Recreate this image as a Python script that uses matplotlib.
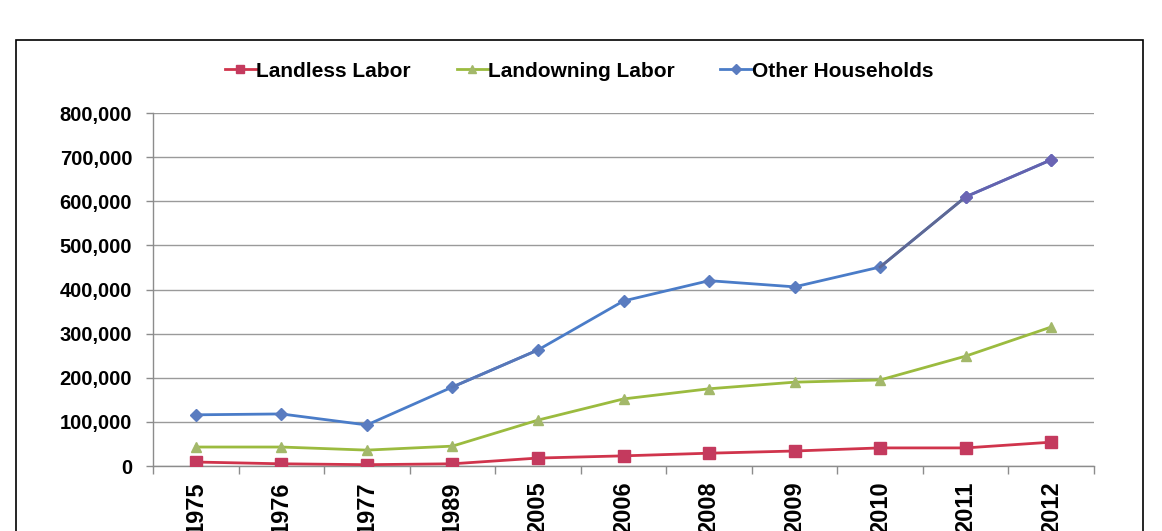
import numpy as np
import matplotlib.pyplot as plt
from matplotlib.patches import Rectangle
from matplotlib.ticker import FuncFormatter

plt.rcParams['font.family'] = ['Liberation Sans', 'DejaVu Sans']
plt.rcParams['font.weight'] = 'bold'

# 年份与三类家庭的数值
years = ['1975', '1976', '1977', '1989', '2005', '2006', '2008', '2009', '2010', '2011', '2012']
landless = [9000, 5000, 3000, 5000, 18000, 23000, 29000, 34000, 41000, 41000, 54000]
landowning = [43000, 43000, 36000, 45000, 104000, 152000, 175000, 190000, 195000, 249000, 315000]
other = [116000, 118000, 93000, 179000, 263000, 374000, 420000, 406000, 451000, 610000, 694000]

c_red = '#D0344C'
c_red_mk = '#C43A5E'
c_green = '#9BBB3F'
c_green_mk = '#A3B86A'
c_blue = '#4A7CC8'
c_blue_mk = '#5A7CC0'

fig = plt.figure(figsize=(11.62, 5.31), dpi=100)
ax = fig.add_axes([153 / 1162, 1 - 466 / 531, (1094 - 153) / 1162, (466 - 113) / 531])

x = np.arange(len(years))

ax.plot(x, other, color=c_blue, lw=2.0, marker='D', ms=6, mfc=c_blue_mk, mec=c_blue_mk,
        label='Other Households', zorder=3)
# 后面几段颜色偏紫
ax.plot(x[3:5], other[3:5], color='#5877B8', lw=2.0, zorder=3.1)
ax.plot(x[8:10], other[8:10], color='#5F6894', lw=2.0, zorder=3.1)
ax.plot(x[9:11], other[9:11], color='#6462AE', lw=2.0, marker='D', ms=6,
        mfc='#6A64B4', mec='#6A64B4', zorder=3.1)

ax.plot(x, landowning, color=c_green, lw=2.0, marker='^', ms=7, mfc=c_green_mk, mec=c_green_mk,
        label='Landowning Labor', zorder=3)
ax.plot(x, landless, color=c_red, lw=2.0, marker='s', ms=8, mfc=c_red_mk, mec=c_red_mk,
        label='Landless Labor', zorder=4)

ax.set_xlim(-0.5, len(years) - 0.5)
ax.set_ylim(0, 800000)
ax.set_yticks(np.arange(0, 800001, 100000))
ax.yaxis.set_major_formatter(FuncFormatter(lambda v, p: f'{int(v):,}'))
ax.grid(axis='y', color='#9A9A9A', lw=1.0)
ax.set_axisbelow(True)

ax.set_xticks(x)
ax.set_xticklabels(years, rotation=90, fontsize=17, fontweight='bold', va='top')
ax.set_xticks(np.arange(-0.5, len(years), 1), minor=True)
ax.tick_params(axis='x', which='major', length=0, pad=11)
ax.tick_params(axis='x', which='minor', length=6, width=1, color='#8C8C8C', direction='out')
ax.tick_params(axis='y', length=5, width=1, color='#8C8C8C', labelsize=14.5, pad=10)

for s in ['top', 'right']:
    ax.spines[s].set_visible(False)
for s in ['left', 'bottom']:
    ax.spines[s].set_color('#8C8C8C')
    ax.spines[s].set_linewidth(1.0)

h, l = ax.get_legend_handles_labels()
order = [l.index('Landless Labor'), l.index('Landowning Labor'), l.index('Other Households')]
fig.legend([h[i] for i in order], [l[i] for i in order], loc='center',
           bbox_to_anchor=(579 / 1162, 1 - 71 / 531), ncol=3, frameon=False,
           fontsize=15, handlelength=1.5, handletextpad=0.0, columnspacing=2.2,
           markerscale=0.8)

# 外框
fig.add_artist(Rectangle((16 / 1162, -0.1), (1143 - 16) / 1162, 1.1 - 40 / 531,
                         transform=fig.transFigure, fill=False, ec='black', lw=1.2))

fig.savefig('out.png', dpi=100)
